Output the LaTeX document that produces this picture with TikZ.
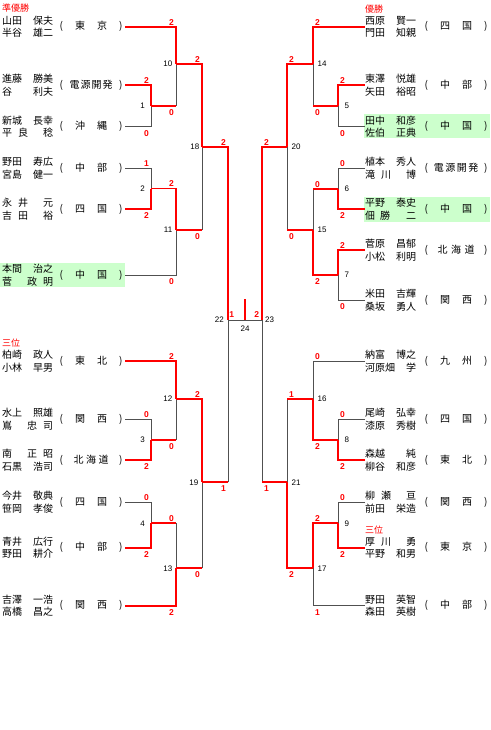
\documentclass[tikz,border=0pt]{standalone}
\usepackage{fontspec}
\setmainfont{Liberation Sans}
\newfontfamily\jpfont{Noto Sans CJK JP}
\definecolor{WinRed}{RGB}{255,0,0}
\definecolor{LoseGray}{RGB}{80,80,80}
\definecolor{SeedGreen}{RGB}{204,255,204}
\newcommand\nm[2]{\makebox[5.1em]{#1\hfill#2}}
\newcommand\org[1]{\makebox[6.3em]{(\hfill#1\hfill)}}
\tikzset{
  win/.style={draw=WinRed,line width=1.7pt},
  lose/.style={draw=LoseGray,line width=1pt},
  team/.style={font=\fontsize{10}{12.6}\selectfont\jpfont,align=left,
               inner sep=0pt,anchor=west},
  club/.style={font=\fontsize{10}{12}\selectfont\jpfont,inner sep=0pt},
  score/.style={font=\fontsize{8.5}{9}\selectfont\bfseries,text=WinRed,inner sep=0pt},
  mno/.style={font=\fontsize{8}{9}\selectfont,inner sep=0pt},
  rank/.style={font=\fontsize{9}{10}\selectfont\jpfont,text=WinRed,
               inner sep=0pt,anchor=west},
  seed/.style={fill=SeedGreen,draw=none},
}
\begin{document}
\begin{tikzpicture}[x=1pt,y=-1pt]
  \fill[white] (0,0) rectangle (490,730);
  \useasboundingbox (0,0) rectangle (490,730);
  % seeded teams
  \fill[seed] (0,262.7) rectangle (125,287.3);
  \fill[seed] (364,114) rectangle (490,138.3);
  \fill[seed] (364,196.7) rectangle (490,221.7);

  % line ends of the teams
  \coordinate (tA1) at (125,26.7);  \coordinate (tA2) at (125,85);
  \coordinate (tA3) at (125,126.7); \coordinate (tA4) at (125,168.3);
  \coordinate (tA5) at (125,209.3); \coordinate (tA6) at (125,275);
  \coordinate (tA7) at (125,361);   \coordinate (tA8) at (125,419.3);
  \coordinate (tA9) at (125,460);   \coordinate (tA10) at (125,502.3);
  \coordinate (tA11) at (125,547.7);\coordinate (tA12) at (125,605.7);
  \coordinate (tB1) at (365,26.7);  \coordinate (tB2) at (365,85);
  \coordinate (tB3) at (365,126.7); \coordinate (tB4) at (365,168.3);
  \coordinate (tB5) at (365,209.3); \coordinate (tB6) at (365,250);
  \coordinate (tB7) at (365,300);   \coordinate (tB8) at (365,361);
  \coordinate (tB9) at (365,419.3); \coordinate (tB10) at (365,460);
  \coordinate (tB11) at (365,502.3);\coordinate (tB12) at (365,547.7);
  \coordinate (tB13) at (365,605.7);
  % match junctions
  \coordinate (m1) at (151,106);   \coordinate (m2) at (151,188.5);
  \coordinate (m3) at (151,440);   \coordinate (m4) at (151,523.3);
  \coordinate (m10) at (176,64);   \coordinate (m11) at (176,230);
  \coordinate (m12) at (176,399);  \coordinate (m13) at (176,568.3);
  \coordinate (m18) at (202,147);  \coordinate (m19) at (202,482.3);
  \coordinate (m22) at (228,320);  \coordinate (m24) at (245,320);
  \coordinate (m5) at (338,106);   \coordinate (m6) at (338,189);
  \coordinate (m7) at (338,275);   \coordinate (m8) at (338,440);
  \coordinate (m9) at (338,523.3);
  \coordinate (m14) at (313,64);   \coordinate (m15) at (313,230);
  \coordinate (m16) at (313,399);  \coordinate (m17) at (313,568.3);
  \coordinate (m20) at (287,147);  \coordinate (m21) at (287,482.3);
  \coordinate (m23) at (262,320);  \coordinate (top) at (245,299);

  % lost paths
  \draw[lose] (tA3) -| (m1);  \draw[lose] (m1 -| m10) -- (m10);
  \draw[lose] (tA4) -| (m2);  \draw[lose] (tA6) -| (m11);
  \draw[lose] (m11 -| m18) -- (m18);
  \draw[lose] (tA8) -| (m3);  \draw[lose] (m3 -| m12) -- (m12);
  \draw[lose] (tA10) -| (m4); \draw[lose] (m4 -| m13) -- (m13);
  \draw[lose] (m13 -| m19) -- (m19); \draw[lose] (m19 -| m22) -- (m22);
  \draw[lose] (tB3) -| (m5);  \draw[lose] (m5 -| m14) -- (m14);
  \draw[lose] (tB4) -| (m6);  \draw[lose] (m6 -| m15) -- (m15);
  \draw[lose] (tB7) -| (m7);  \draw[lose] (m15 -| m20) -- (m20);
  \draw[lose] (tB8) -| (m16); \draw[lose] (tB9) -| (m8);
  \draw[lose] (m16 -| m21) -- (m21);
  \draw[lose] (tB11) -| (m9); \draw[lose] (tB13) -| (m17);
  \draw[lose] (m21 -| m23) -- (m23);
  \draw[lose] (m22) -- (m23);
  % winning paths
  \draw[win] (tA1) -| (m10);  \draw[win] (tA2) -| (m1);
  \draw[win] (m1) -- (m1 -| m10); \draw[win] (m10) -| (m18);
  \draw[win] (tA5) -| (m2);   \draw[win] (m2) -| (m11);
  \draw[win] (m11) -- (m11 -| m18); \draw[win] (m18) -| (m22);
  \draw[win] (tA7) -| (m12);  \draw[win] (tA9) -| (m3);
  \draw[win] (m3) -- (m3 -| m12); \draw[win] (m12) -| (m19);
  \draw[win] (tA11) -| (m4);  \draw[win] (m4) -- (m4 -| m13);
  \draw[win] (tA12) -| (m13); \draw[win] (m13) -- (m13 -| m19);
  \draw[win] (m19) -- (m19 -| m22);
  \draw[win] (tB1) -| (m14);  \draw[win] (tB2) -| (m5);
  \draw[win] (m5) -- (m5 -| m14); \draw[win] (m14) -| (m20);
  \draw[win] (tB5) -| (m6);   \draw[win] (m6) -- (m6 -| m15);
  \draw[win] (tB6) -| (m7);   \draw[win] (m7) -| (m15);
  \draw[win] (m15) -- (m15 -| m20); \draw[win] (m20) -| (m23);
  \draw[win] (tB10) -| (m8);  \draw[win] (m8) -| (m16);
  \draw[win] (m16) -- (m16 -| m21);
  \draw[win] (tB12) -| (m9);  \draw[win] (m9) -| (m17);
  \draw[win] (m17) -| (m21);  \draw[win] (m21) -- (m21 -| m23);
  \draw[win] (m24) -- (top);

  % ranks
  \node[rank] (r1) at (2,8.5) {準優勝};
  \node[rank] (r2) at (365,9.5) {優勝};
  \node[rank] (r3) at (2,343.5) {三位};
  \node[rank] (r4) at (365,530) {三位};

  % left teams
  \node[team] (nA1) at (2,26.7) {\nm{山田}{保夫}\\\nm{半谷}{雄二}};
  \node[club] (oA1) at (91,26.7) {\org{東\hspace{1.2em}京}};
  \node[team] (nA2) at (2,85) {\nm{進藤}{勝美}\\\nm{谷}{利夫}};
  \node[club] (oA2) at (91,85) {\org{電\kern1pt 源\kern1pt 開\kern1pt 発}};
  \node[team] (nA3) at (2,126.7) {\nm{新城}{長幸}\\\nm{平\hspace{.6em}良}{稔}};
  \node[club] (oA3) at (91,126.7) {\org{沖\hspace{1.2em}縄}};
  \node[team] (nA4) at (2,168.3) {\nm{野田}{寿広}\\\nm{宮島}{健一}};
  \node[club] (oA4) at (91,168.3) {\org{中\hspace{1.2em}部}};
  \node[team] (nA5) at (2,209.3) {\nm{永\hspace{.6em}井}{元}\\\nm{吉\hspace{.6em}田}{裕}};
  \node[club] (oA5) at (91,209.3) {\org{四\hspace{1.2em}国}};
  \node[team] (nA6) at (2,275) {\nm{本間}{治之}\\\nm{菅}{政\hspace{.6em}明}};
  \node[club] (oA6) at (91,275) {\org{中\hspace{1.2em}国}};
  \node[team] (nA7) at (2,361) {\nm{柏崎}{政人}\\\nm{小林}{早男}};
  \node[club] (oA7) at (91,361) {\org{東\hspace{1.2em}北}};
  \node[team] (nA8) at (2,419.3) {\nm{水上}{照雄}\\\nm{嶌}{忠\hspace{.6em}司}};
  \node[club] (oA8) at (91,419.3) {\org{関\hspace{1.2em}西}};
  \node[team] (nA9) at (2,460) {\nm{南}{正\hspace{.6em}昭}\\\nm{石黒}{浩司}};
  \node[club] (oA9) at (91,460) {\org{北\kern2.5pt 海\kern2.5pt 道}};
  \node[team] (nA10) at (2,502.3) {\nm{今井}{敬典}\\\nm{笹岡}{孝俊}};
  \node[club] (oA10) at (91,502.3) {\org{四\hspace{1.2em}国}};
  \node[team] (nA11) at (2,547.7) {\nm{青井}{広行}\\\nm{野田}{耕介}};
  \node[club] (oA11) at (91,547.7) {\org{中\hspace{1.2em}部}};
  \node[team] (nA12) at (2,605.7) {\nm{吉澤}{一浩}\\\nm{高橋}{昌之}};
  \node[club] (oA12) at (91,605.7) {\org{関\hspace{1.2em}西}};
  % right teams
  \node[team] (nB1) at (365,26.7) {\nm{西原}{賢一}\\\nm{門田}{知親}};
  \node[club] (oB1) at (456,26.7) {\org{四\hspace{1.2em}国}};
  \node[team] (nB2) at (365,85) {\nm{東澤}{悦雄}\\\nm{矢田}{裕昭}};
  \node[club] (oB2) at (456,85) {\org{中\hspace{1.2em}部}};
  \node[team] (nB3) at (365,126.7) {\nm{田中}{和彦}\\\nm{佐伯}{正典}};
  \node[club] (oB3) at (456,126.7) {\org{中\hspace{1.2em}国}};
  \node[team] (nB4) at (365,168.3) {\nm{植本}{秀人}\\\nm{滝\hspace{.6em}川}{博}};
  \node[club] (oB4) at (456,168.3) {\org{電\kern1.5pt 源\kern1.5pt 開\kern1.5pt 発}};
  \node[team] (nB5) at (365,209.3) {\nm{平野}{泰史}\\\nm{佃}{勝\hspace{1.6em}二}};
  \node[club] (oB5) at (456,209.3) {\org{中\hspace{1.2em}国}};
  \node[team] (nB6) at (365,250) {\nm{菅原}{昌郁}\\\nm{小松}{利明}};
  \node[club] (oB6) at (456,250) {\org{北\kern3.5pt 海\kern3.5pt 道}};
  \node[team] (nB7) at (365,300) {\nm{米田}{吉輝}\\\nm{桑坂}{勇人}};
  \node[club] (oB7) at (456,300) {\org{関\hspace{1.2em}西}};
  \node[team] (nB8) at (365,361) {\nm{納富}{博之}\\\nm{河原畑}{学}};
  \node[club] (oB8) at (456,361) {\org{九\hspace{1.2em}州}};
  \node[team] (nB9) at (365,419.3) {\nm{尾崎}{弘幸}\\\nm{漆原}{秀樹}};
  \node[club] (oB9) at (456,419.3) {\org{四\hspace{1.2em}国}};
  \node[team] (nB10) at (365,460) {\nm{森越}{純}\\\nm{柳谷}{和彦}};
  \node[club] (oB10) at (456,460) {\org{東\hspace{1.2em}北}};
  \node[team] (nB11) at (365,502.3) {\nm{柳\hspace{.6em}瀬}{亘}\\\nm{前田}{栄造}};
  \node[club] (oB11) at (456,502.3) {\org{関\hspace{1.2em}西}};
  \node[team] (nB12) at (365,547.7) {\nm{厚\hspace{.6em}川}{勇}\\\nm{平野}{和男}};
  \node[club] (oB12) at (456,547.7) {\org{東\hspace{1.2em}京}};
  \node[team] (nB13) at (365,605.7) {\nm{野田}{英智}\\\nm{森田}{英樹}};
  \node[club] (oB13) at (456,605.7) {\org{中\hspace{1.2em}部}};

  % match numbers
  \node[mno,anchor=east] (n1) at (145,106) {1};
  \node[mno,anchor=east] (n2) at (145,188.5) {2};
  \node[mno,anchor=east] (n3) at (145,440) {3};
  \node[mno,anchor=east] (n4) at (145,523.3) {4};
  \node[mno,anchor=east] (n10) at (172.5,64) {10};
  \node[mno,anchor=east] (n11) at (172.5,230) {11};
  \node[mno,anchor=east] (n12) at (172.5,399) {12};
  \node[mno,anchor=east] (n13) at (172.5,568.3) {13};
  \node[mno,anchor=east] (n18) at (199.5,147) {18};
  \node[mno,anchor=east] (n19) at (198.5,482.3) {19};
  \node[mno,anchor=east] (n22) at (224,320) {22};
  \node[mno,anchor=west] (n5) at (344.5,106) {5};
  \node[mno,anchor=west] (n6) at (344.5,189) {6};
  \node[mno,anchor=west] (n7) at (344.5,275) {7};
  \node[mno,anchor=west] (n8) at (344.5,440) {8};
  \node[mno,anchor=west] (n9) at (344.5,523.3) {9};
  \node[mno,anchor=west] (n14) at (317.5,64) {14};
  \node[mno,anchor=west] (n15) at (317.5,230) {15};
  \node[mno,anchor=west] (n16) at (317.5,399) {16};
  \node[mno,anchor=west] (n17) at (317.5,568.3) {17};
  \node[mno,anchor=west] (n20) at (291.5,147) {20};
  \node[mno,anchor=west] (n21) at (291.5,482.3) {21};
  \node[mno,anchor=west] (n23) at (265,320) {23};
  \node[mno] (n24) at (245,328.5) {24};

  % scores, left half
  \node[score] (sA1) at (171.5,22.2) {2};   \node[score] (sA2) at (146.5,80.5) {2};
  \node[score] (sA3) at (146.5,133.2) {0};  \node[score] (sM1) at (171.5,112.5) {0};
  \node[score] (sM10) at (197.5,59.5) {2};  \node[score] (sM18) at (223.5,142.5) {2};
  \node[score] (sA4) at (146.5,163.8) {1};  \node[score] (sA5) at (146.5,215.8) {2};
  \node[score] (sM2) at (171.5,184) {2};    \node[score] (sA6) at (171.5,281.5) {0};
  \node[score] (sM11) at (197.5,236.5) {0};
  \node[score] (sA7) at (171.5,356.5) {2};  \node[score] (sA8) at (146.5,414.8) {0};
  \node[score] (sA9) at (146.5,466.5) {2};  \node[score] (sM3) at (171.5,446.5) {0};
  \node[score] (sM12) at (197.5,394.5) {2}; \node[score] (sM19) at (223.5,488.8) {1};
  \node[score] (sA10) at (146.5,497.8) {0}; \node[score] (sA11) at (146.5,554.2) {2};
  \node[score] (sM4) at (171.5,518.8) {0};  \node[score] (sA12) at (171.5,612.2) {2};
  \node[score] (sM13) at (197.5,574.8) {0};
  % scores, right half
  \node[score] (sB1) at (317.5,22.2) {2};   \node[score] (sB2) at (342.5,80.5) {2};
  \node[score] (sB3) at (342.5,133.2) {0};  \node[score] (sM5) at (317.5,112.5) {0};
  \node[score] (sM14) at (291.5,59.5) {2};  \node[score] (sM20) at (266.5,142.5) {2};
  \node[score] (sB4) at (342.5,163.8) {0};  \node[score] (sB5) at (342.5,215.8) {2};
  \node[score] (sM6) at (317.5,184.5) {0};  \node[score] (sB6) at (342.5,245.5) {2};
  \node[score] (sB7) at (342.5,306.5) {0};  \node[score] (sM7) at (317.5,281.5) {2};
  \node[score] (sM15) at (291.5,236.5) {0};
  \node[score] (sB8) at (317.5,356.5) {0};  \node[score] (sB9) at (342.5,414.8) {0};
  \node[score] (sB10) at (342.5,466.5) {2}; \node[score] (sM8) at (317.5,446.5) {2};
  \node[score] (sM16) at (291.5,394.5) {1}; \node[score] (sM21) at (266.5,488.8) {1};
  \node[score] (sB11) at (342.5,497.8) {0}; \node[score] (sB12) at (342.5,554.2) {2};
  \node[score] (sM9) at (317.5,518.8) {2};  \node[score] (sB13) at (317.5,612.2) {1};
  \node[score] (sM17) at (291.5,574.8) {2};
  % final
  \node[score] (sF1) at (231.7,315) {1};    \node[score] (sF2) at (256.7,315) {2};
\end{tikzpicture}
\end{document}
